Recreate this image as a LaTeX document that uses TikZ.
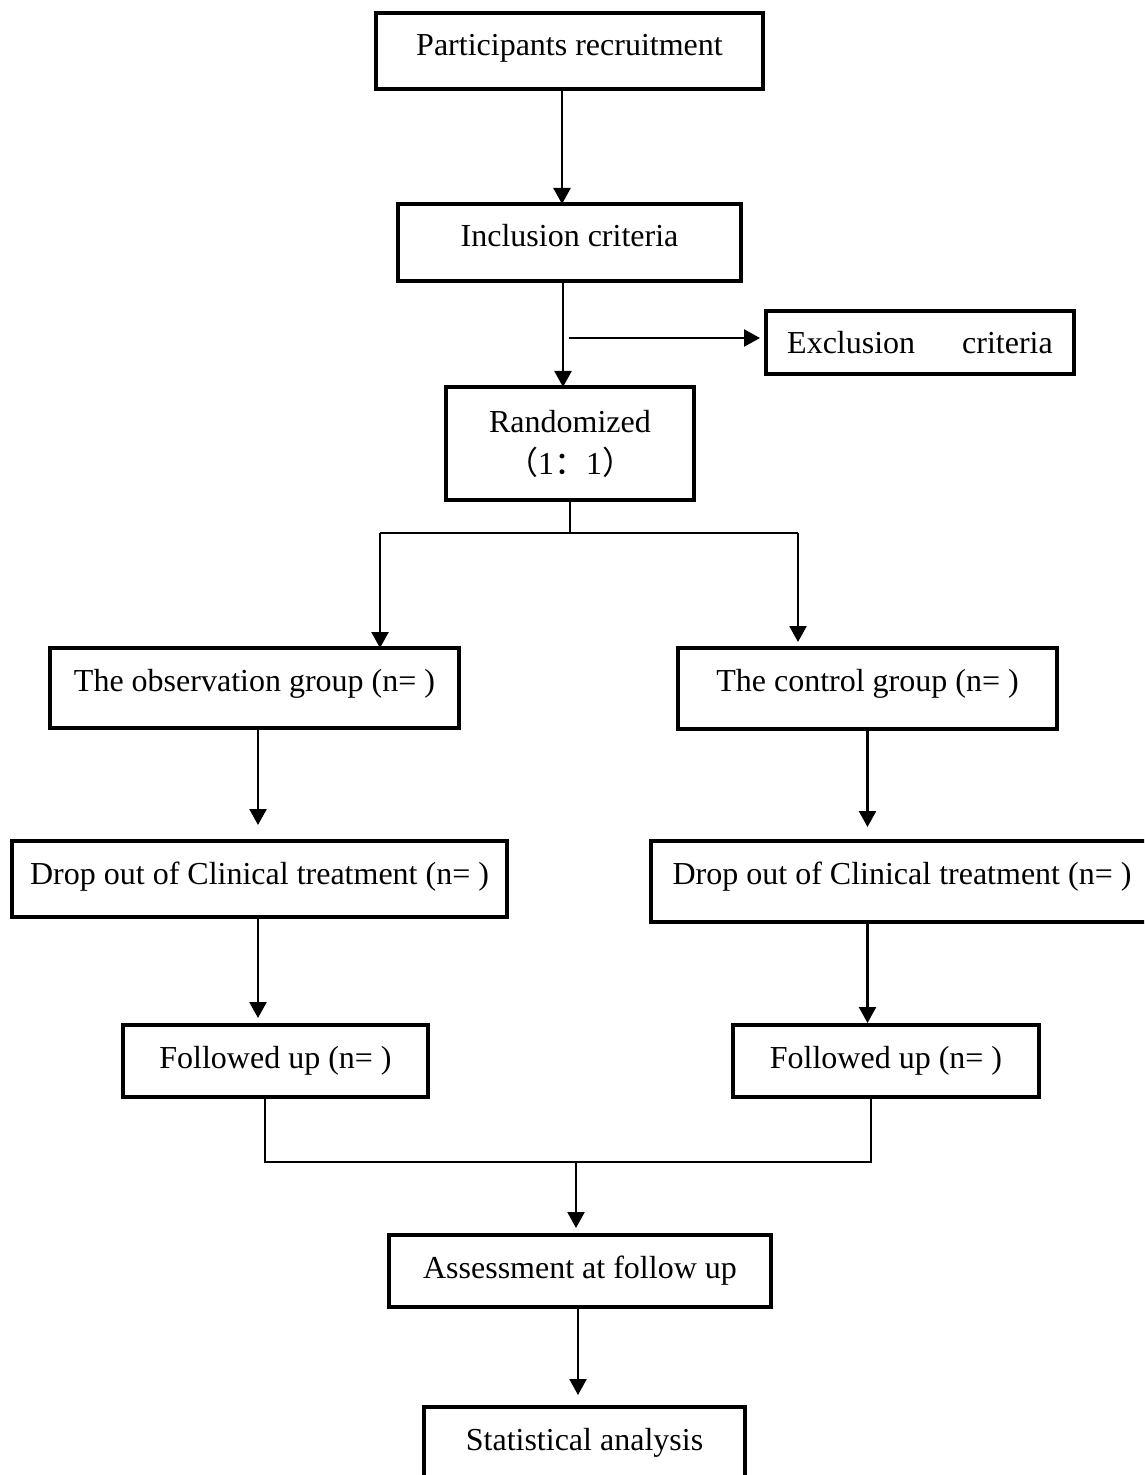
\documentclass[tikz,border=0pt]{standalone}
\usepackage{fontspec}
\setmainfont{Liberation Serif}
\newfontfamily\cjkfont{Noto Sans CJK SC}
\usetikzlibrary{arrows.meta, positioning, calc}

\begin{document}
\begin{tikzpicture}[
		x=0.5pt, y=-0.5pt,
		font=\fontsize{16}{21}\selectfont,
		% Style for the boxes of the flow chart
		box/.style={
			draw, line width=1.6pt,
			inner sep=0pt, outer sep=0pt,
			anchor=north
		},
		stepbox/.style={box, text height=21.5pt},
		% Style for the connectors
		link/.style={line width=1.2pt},
		arr/.style={link, -{Triangle[length=8pt, width=8.5pt]}}
		]
		\path[use as bounding box, clip] (0,0) rectangle (1144,1475);
		
		% --- 1. RECRUITMENT AND SCREENING ---
		\node[stepbox, minimum width=193.5pt, text depth=16.5pt] (recruit) at (569.5,13) {Participants recruitment};
		\node[stepbox, minimum width=171.5pt, text depth=17pt] (inclusion) at (569.5,204) {Inclusion criteria};
		\node[stepbox, minimum width=154pt, text depth=10pt] (exclusion) at (920,311) {Exclusion\hspace{23.5pt}criteria};
		\node[box, minimum width=124pt, minimum height=56.5pt, align=center] (random) at (570,387)
			{Randomized\\{\cjkfont （}1{\cjkfont ：}1{\cjkfont ）}};
		
		% --- 2. THE TWO GROUPS ---
		\node[stepbox, minimum width=204.5pt, text depth=18.5pt] (obs) at (254.5,648) {The observation group (n= )};
		\node[stepbox, minimum width=189.5pt, text depth=19pt] (control) at (867.5,648) {The control group (n= )};
		
		\node[stepbox, minimum width=247.5pt, text depth=16.5pt] (dropL) at (259.5,841) {Drop out of Clinical treatment (n= )};
		\node[stepbox, minimum width=251pt, text depth=19pt] (dropR) at (902,841) {Drop out of Clinical treatment (n= )};
		
		\node[stepbox, minimum width=152.5pt, text depth=14.5pt] (followL) at (275.5,1025) {Followed up (n= )};
		\node[stepbox, minimum width=153pt, text depth=14.5pt] (followR) at (886,1025) {Followed up (n= )};
		
		% --- 3. ANALYSIS ---
		\node[stepbox, minimum width=191pt, text depth=14.5pt] (assess) at (580,1235) {Assessment at follow up};
		\node[stepbox, minimum width=160.5pt, text depth=20pt] (stat) at (584.5,1407) {Statistical analysis};
		
		% --- ARROWS & FLOW ---
		\draw[arr] ([xshift=-3.75pt]recruit.south) -- ([xshift=-3.75pt]recruit.south |- inclusion.north);
		\draw[arr] ([xshift=-3.25pt]inclusion.south) -- ([xshift=-3.25pt]inclusion.south |- random.north);
		
		% Exclusion branch
		\coordinate (excl) at (569,338);
		\draw[arr, shorten >=3pt] (excl) -- (excl -| exclusion.west);
		
		% Randomization split
		\coordinate (split) at (572,533);
		\coordinate (splitL) at (380,533);
		\coordinate (splitR) at (798,533);
		\draw[link] (random.south) -- (random.south |- split);
		\draw[link] (splitL) -- (splitR);
		\draw[arr] (splitL) -- (splitL |- obs.north);
		\draw[arr, shorten >=3pt] (splitR) -- (splitR |- control.north);
		
		% Down each group
		\draw[arr, shorten >=8pt] ([xshift=1.75pt]obs.south) -- ([xshift=1.75pt]obs.south |- dropL.north);
		\draw[arr, shorten >=7pt] (control.south) -- (control.south |- dropR.north);
		\draw[arr, shorten >=3.5pt] ([xshift=-0.75pt]dropL.south) -- ([xshift=-0.75pt]dropL.south |- followL.north);
		\draw[arr, shorten >=1pt] (control.south |- dropR.south) -- (control.south |- followR.north);
		
		% Merge of both groups
		\coordinate (merge) at (576,1162);
		\draw[link] ([xshift=-5.25pt]followL.south) |- (merge) -| ([xshift=-7.5pt]followR.south);
		\draw[arr, shorten >=3.5pt] (merge) -- (merge |- assess.north);
		\draw[arr, shorten >=6pt] ([xshift=-1pt]assess.south) -- ([xshift=-1pt]assess.south |- stat.north);
		
	\end{tikzpicture}
\end{document}
